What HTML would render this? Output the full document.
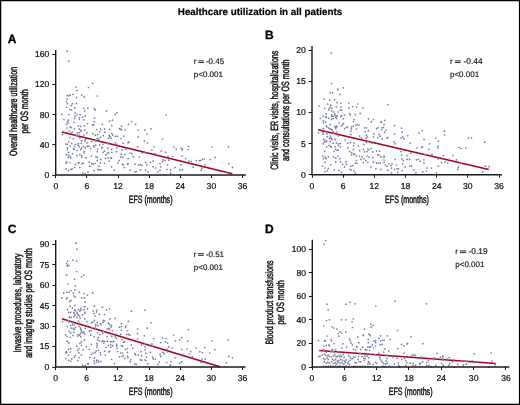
<!DOCTYPE html><html><head><meta charset="utf-8"><style>html,body{margin:0;padding:0;background:#fff}svg{display:block;will-change:transform}text{text-rendering:geometricPrecision;font-family:"Liberation Sans", sans-serif}</style></head><body>
<svg width="520" height="405" viewBox="0 0 520 405">
<rect x="0" y="0" width="520" height="405" fill="#000"/>
<rect x="1.25" y="1.25" width="517.65" height="402.45" fill="#fff"/>
<text x="260" y="15.4" font-size="9.83" font-weight="bold" text-anchor="middle" fill="#000" stroke="#000" stroke-width="0.2">Healthcare utilization in all patients</text>
<g fill="#747aa6"><circle cx="67.2" cy="51.2" r="0.85"/><circle cx="68.8" cy="61.2" r="0.85"/><circle cx="92.6" cy="83.4" r="0.85"/><circle cx="88.5" cy="87.5" r="0.85"/><circle cx="76.0" cy="87.1" r="0.85"/><circle cx="77.0" cy="90.6" r="0.85"/><circle cx="67.4" cy="95.6" r="0.85"/><circle cx="69.0" cy="95.7" r="0.85"/><circle cx="70.2" cy="95.1" r="0.85"/><circle cx="72.8" cy="94.3" r="0.85"/><circle cx="81.6" cy="95.1" r="0.85"/><circle cx="84.3" cy="96.9" r="0.85"/><circle cx="76.5" cy="97.4" r="0.85"/><circle cx="67.1" cy="99.1" r="0.85"/><circle cx="66.5" cy="101.5" r="0.85"/><circle cx="67.4" cy="103.7" r="0.85"/><circle cx="72.4" cy="103.7" r="0.85"/><circle cx="76.5" cy="103.4" r="0.85"/><circle cx="71.1" cy="105.4" r="0.85"/><circle cx="66.5" cy="107.2" r="0.85"/><circle cx="74.8" cy="107.9" r="0.85"/><circle cx="83.8" cy="108.3" r="0.85"/><circle cx="87.8" cy="107.9" r="0.85"/><circle cx="84.7" cy="111.1" r="0.85"/><circle cx="69.9" cy="109.6" r="0.85"/><circle cx="71.4" cy="109.8" r="0.85"/><circle cx="75.1" cy="112.8" r="0.85"/><circle cx="61.9" cy="114.4" r="0.85"/><circle cx="69.0" cy="114.6" r="0.85"/><circle cx="77.0" cy="114.6" r="0.85"/><circle cx="80.1" cy="114.6" r="0.85"/><circle cx="97.3" cy="96.0" r="0.85"/><circle cx="94.2" cy="108.8" r="0.85"/><circle cx="95.3" cy="109.9" r="0.85"/><circle cx="106.5" cy="110.9" r="0.85"/><circle cx="117.0" cy="112.8" r="0.85"/><circle cx="115.2" cy="114.6" r="0.85"/><circle cx="166.2" cy="115.0" r="0.85"/><circle cx="131.5" cy="121.6" r="0.85"/><circle cx="128.4" cy="124.4" r="0.85"/><circle cx="135.6" cy="124.4" r="0.85"/><circle cx="121.5" cy="126.2" r="0.85"/><circle cx="120.6" cy="129.0" r="0.85"/><circle cx="121.5" cy="129.8" r="0.85"/><circle cx="125.0" cy="130.0" r="0.85"/><circle cx="138.1" cy="130.0" r="0.85"/><circle cx="145.0" cy="130.2" r="0.85"/><circle cx="151.0" cy="128.8" r="0.85"/><circle cx="146.9" cy="134.0" r="0.85"/><circle cx="123.8" cy="136.2" r="0.85"/><circle cx="138.1" cy="136.9" r="0.85"/><circle cx="121.0" cy="138.5" r="0.85"/><circle cx="162.5" cy="139.0" r="0.85"/><circle cx="75.1" cy="116.2" r="0.85"/><circle cx="74.5" cy="118.4" r="0.85"/><circle cx="79.5" cy="117.5" r="0.85"/><circle cx="79.5" cy="119.3" r="0.85"/><circle cx="82.5" cy="117.2" r="0.85"/><circle cx="85.3" cy="115.9" r="0.85"/><circle cx="83.8" cy="119.8" r="0.85"/><circle cx="64.0" cy="119.6" r="0.85"/><circle cx="68.3" cy="120.2" r="0.85"/><circle cx="67.4" cy="122.1" r="0.85"/><circle cx="68.3" cy="123.0" r="0.85"/><circle cx="66.5" cy="124.4" r="0.85"/><circle cx="74.2" cy="122.3" r="0.85"/><circle cx="78.5" cy="125.8" r="0.85"/><circle cx="80.7" cy="126.4" r="0.85"/><circle cx="84.4" cy="125.8" r="0.85"/><circle cx="87.5" cy="123.6" r="0.85"/><circle cx="67.1" cy="128.0" r="0.85"/><circle cx="70.2" cy="127.0" r="0.85"/><circle cx="71.1" cy="127.7" r="0.85"/><circle cx="74.5" cy="128.6" r="0.85"/><circle cx="79.2" cy="129.2" r="0.85"/><circle cx="80.7" cy="130.1" r="0.85"/><circle cx="81.3" cy="131.2" r="0.85"/><circle cx="84.7" cy="130.1" r="0.85"/><circle cx="86.9" cy="132.9" r="0.85"/><circle cx="69.3" cy="131.1" r="0.85"/><circle cx="72.4" cy="132.0" r="0.85"/><circle cx="77.6" cy="132.9" r="0.85"/><circle cx="79.5" cy="132.6" r="0.85"/><circle cx="70.8" cy="133.2" r="0.85"/><circle cx="75.1" cy="134.8" r="0.85"/><circle cx="77.0" cy="135.4" r="0.85"/><circle cx="78.8" cy="135.4" r="0.85"/><circle cx="83.8" cy="135.1" r="0.85"/><circle cx="62.5" cy="134.6" r="0.85"/><circle cx="69.6" cy="137.5" r="0.85"/><circle cx="73.3" cy="138.8" r="0.85"/><circle cx="79.8" cy="137.8" r="0.85"/><circle cx="85.6" cy="139.4" r="0.85"/><circle cx="94.5" cy="118.1" r="0.85"/><circle cx="94.5" cy="121.8" r="0.85"/><circle cx="92.3" cy="124.9" r="0.85"/><circle cx="93.6" cy="124.9" r="0.85"/><circle cx="102.3" cy="124.3" r="0.85"/><circle cx="109.6" cy="121.2" r="0.85"/><circle cx="112.4" cy="120.2" r="0.85"/><circle cx="111.8" cy="125.6" r="0.85"/><circle cx="96.6" cy="129.5" r="0.85"/><circle cx="100.7" cy="129.1" r="0.85"/><circle cx="104.5" cy="128.9" r="0.85"/><circle cx="109.6" cy="129.3" r="0.85"/><circle cx="119.5" cy="128.7" r="0.85"/><circle cx="99.7" cy="131.8" r="0.85"/><circle cx="105.0" cy="132.3" r="0.85"/><circle cx="92.9" cy="133.8" r="0.85"/><circle cx="95.4" cy="135.2" r="0.85"/><circle cx="97.6" cy="134.4" r="0.85"/><circle cx="103.3" cy="135.7" r="0.85"/><circle cx="100.3" cy="137.1" r="0.85"/><circle cx="111.8" cy="133.5" r="0.85"/><circle cx="112.7" cy="135.1" r="0.85"/><circle cx="109.3" cy="135.4" r="0.85"/><circle cx="109.9" cy="136.3" r="0.85"/><circle cx="110.2" cy="137.2" r="0.85"/><circle cx="115.2" cy="136.3" r="0.85"/><circle cx="117.3" cy="136.3" r="0.85"/><circle cx="108.4" cy="138.3" r="0.85"/><circle cx="111.2" cy="138.5" r="0.85"/><circle cx="97.3" cy="138.3" r="0.85"/><circle cx="98.8" cy="139.1" r="0.85"/><circle cx="68.7" cy="141.8" r="0.85"/><circle cx="65.9" cy="144.0" r="0.85"/><circle cx="67.4" cy="144.3" r="0.85"/><circle cx="71.7" cy="143.4" r="0.85"/><circle cx="70.2" cy="145.9" r="0.85"/><circle cx="75.4" cy="144.3" r="0.85"/><circle cx="78.5" cy="143.7" r="0.85"/><circle cx="78.2" cy="145.2" r="0.85"/><circle cx="81.3" cy="143.4" r="0.85"/><circle cx="79.2" cy="146.8" r="0.85"/><circle cx="67.4" cy="147.7" r="0.85"/><circle cx="67.4" cy="149.6" r="0.85"/><circle cx="74.5" cy="146.5" r="0.85"/><circle cx="73.6" cy="148.6" r="0.85"/><circle cx="73.9" cy="149.6" r="0.85"/><circle cx="77.0" cy="150.5" r="0.85"/><circle cx="80.7" cy="149.6" r="0.85"/><circle cx="81.6" cy="148.0" r="0.85"/><circle cx="83.5" cy="146.5" r="0.85"/><circle cx="85.3" cy="147.7" r="0.85"/><circle cx="87.2" cy="146.2" r="0.85"/><circle cx="87.2" cy="142.8" r="0.85"/><circle cx="85.0" cy="140.9" r="0.85"/><circle cx="81.6" cy="140.9" r="0.85"/><circle cx="68.7" cy="152.3" r="0.85"/><circle cx="72.4" cy="153.9" r="0.85"/><circle cx="66.5" cy="154.7" r="0.85"/><circle cx="68.7" cy="155.4" r="0.85"/><circle cx="70.2" cy="156.4" r="0.85"/><circle cx="68.3" cy="157.6" r="0.85"/><circle cx="70.8" cy="157.9" r="0.85"/><circle cx="77.0" cy="155.7" r="0.85"/><circle cx="79.8" cy="154.5" r="0.85"/><circle cx="81.6" cy="155.7" r="0.85"/><circle cx="81.6" cy="157.3" r="0.85"/><circle cx="84.1" cy="151.7" r="0.85"/><circle cx="84.4" cy="153.0" r="0.85"/><circle cx="86.2" cy="157.9" r="0.85"/><circle cx="66.8" cy="161.9" r="0.85"/><circle cx="65.9" cy="163.2" r="0.85"/><circle cx="70.2" cy="162.5" r="0.85"/><circle cx="78.2" cy="163.2" r="0.85"/><circle cx="79.2" cy="162.5" r="0.85"/><circle cx="75.4" cy="164.4" r="0.85"/><circle cx="81.9" cy="163.8" r="0.85"/><circle cx="83.2" cy="163.2" r="0.85"/><circle cx="91.4" cy="141.5" r="0.85"/><circle cx="95.7" cy="140.9" r="0.85"/><circle cx="100.7" cy="142.2" r="0.85"/><circle cx="107.8" cy="143.4" r="0.85"/><circle cx="115.2" cy="142.8" r="0.85"/><circle cx="116.7" cy="144.3" r="0.85"/><circle cx="88.9" cy="146.2" r="0.85"/><circle cx="93.6" cy="145.9" r="0.85"/><circle cx="95.7" cy="145.2" r="0.85"/><circle cx="94.2" cy="147.1" r="0.85"/><circle cx="99.7" cy="144.9" r="0.85"/><circle cx="103.1" cy="144.3" r="0.85"/><circle cx="90.8" cy="148.3" r="0.85"/><circle cx="101.9" cy="147.1" r="0.85"/><circle cx="101.9" cy="148.3" r="0.85"/><circle cx="97.6" cy="149.3" r="0.85"/><circle cx="97.3" cy="151.7" r="0.85"/><circle cx="107.8" cy="148.3" r="0.85"/><circle cx="111.8" cy="149.3" r="0.85"/><circle cx="116.7" cy="148.0" r="0.85"/><circle cx="103.1" cy="152.3" r="0.85"/><circle cx="104.4" cy="151.1" r="0.85"/><circle cx="107.4" cy="153.0" r="0.85"/><circle cx="108.7" cy="153.0" r="0.85"/><circle cx="105.9" cy="154.8" r="0.85"/><circle cx="111.8" cy="152.3" r="0.85"/><circle cx="116.4" cy="151.7" r="0.85"/><circle cx="91.4" cy="156.1" r="0.85"/><circle cx="96.0" cy="156.7" r="0.85"/><circle cx="97.3" cy="157.3" r="0.85"/><circle cx="100.7" cy="159.4" r="0.85"/><circle cx="105.6" cy="158.4" r="0.85"/><circle cx="108.4" cy="157.9" r="0.85"/><circle cx="111.2" cy="157.6" r="0.85"/><circle cx="111.5" cy="158.5" r="0.85"/><circle cx="97.3" cy="160.7" r="0.85"/><circle cx="109.3" cy="161.0" r="0.85"/><circle cx="119.2" cy="160.4" r="0.85"/><circle cx="89.2" cy="162.2" r="0.85"/><circle cx="91.7" cy="163.5" r="0.85"/><circle cx="93.2" cy="163.8" r="0.85"/><circle cx="95.1" cy="163.5" r="0.85"/><circle cx="100.3" cy="162.8" r="0.85"/><circle cx="104.4" cy="163.3" r="0.85"/><circle cx="117.9" cy="162.8" r="0.85"/><circle cx="66.0" cy="168.8" r="0.85"/><circle cx="68.5" cy="170.6" r="0.85"/><circle cx="71.0" cy="169.4" r="0.85"/><circle cx="72.2" cy="168.8" r="0.85"/><circle cx="74.8" cy="167.5" r="0.85"/><circle cx="79.8" cy="167.5" r="0.85"/><circle cx="89.8" cy="166.2" r="0.85"/><circle cx="99.1" cy="166.2" r="0.85"/><circle cx="94.1" cy="170.6" r="0.85"/><circle cx="97.9" cy="169.4" r="0.85"/><circle cx="99.1" cy="169.8" r="0.85"/><circle cx="101.0" cy="169.8" r="0.85"/><circle cx="111.6" cy="166.9" r="0.85"/><circle cx="114.1" cy="170.0" r="0.85"/><circle cx="82.9" cy="173.1" r="0.85"/><circle cx="85.4" cy="173.8" r="0.85"/><circle cx="87.9" cy="171.9" r="0.85"/><circle cx="123.1" cy="143.2" r="0.85"/><circle cx="128.8" cy="141.8" r="0.85"/><circle cx="128.1" cy="142.8" r="0.85"/><circle cx="144.4" cy="141.1" r="0.85"/><circle cx="147.5" cy="143.0" r="0.85"/><circle cx="137.5" cy="146.8" r="0.85"/><circle cx="153.8" cy="147.0" r="0.85"/><circle cx="151.9" cy="149.9" r="0.85"/><circle cx="161.2" cy="151.1" r="0.85"/><circle cx="165.6" cy="152.4" r="0.85"/><circle cx="173.8" cy="147.0" r="0.85"/><circle cx="176.2" cy="149.2" r="0.85"/><circle cx="181.2" cy="148.0" r="0.85"/><circle cx="181.9" cy="149.9" r="0.85"/><circle cx="182.5" cy="149.0" r="0.85"/><circle cx="121.9" cy="149.9" r="0.85"/><circle cx="125.6" cy="149.2" r="0.85"/><circle cx="121.2" cy="154.2" r="0.85"/><circle cx="125.0" cy="154.5" r="0.85"/><circle cx="130.0" cy="153.0" r="0.85"/><circle cx="131.9" cy="153.6" r="0.85"/><circle cx="141.9" cy="153.0" r="0.85"/><circle cx="145.6" cy="152.8" r="0.85"/><circle cx="155.0" cy="153.6" r="0.85"/><circle cx="120.6" cy="156.8" r="0.85"/><circle cx="122.5" cy="157.4" r="0.85"/><circle cx="128.1" cy="158.6" r="0.85"/><circle cx="133.1" cy="156.8" r="0.85"/><circle cx="139.4" cy="157.0" r="0.85"/><circle cx="168.1" cy="156.5" r="0.85"/><circle cx="172.5" cy="156.5" r="0.85"/><circle cx="181.9" cy="156.1" r="0.85"/><circle cx="163.1" cy="159.9" r="0.85"/><circle cx="165.0" cy="160.5" r="0.85"/><circle cx="168.8" cy="160.2" r="0.85"/><circle cx="162.5" cy="161.8" r="0.85"/><circle cx="122.5" cy="164.2" r="0.85"/><circle cx="123.1" cy="164.9" r="0.85"/><circle cx="127.5" cy="164.2" r="0.85"/><circle cx="128.1" cy="163.6" r="0.85"/><circle cx="124.4" cy="167.4" r="0.85"/><circle cx="135.0" cy="164.2" r="0.85"/><circle cx="138.8" cy="164.9" r="0.85"/><circle cx="140.6" cy="164.6" r="0.85"/><circle cx="141.9" cy="165.5" r="0.85"/><circle cx="145.6" cy="162.4" r="0.85"/><circle cx="146.9" cy="164.9" r="0.85"/><circle cx="150.6" cy="162.4" r="0.85"/><circle cx="153.1" cy="161.1" r="0.85"/><circle cx="153.1" cy="166.8" r="0.85"/><circle cx="155.6" cy="168.0" r="0.85"/><circle cx="160.0" cy="163.6" r="0.85"/><circle cx="160.6" cy="166.8" r="0.85"/><circle cx="167.5" cy="164.9" r="0.85"/><circle cx="175.0" cy="167.4" r="0.85"/><circle cx="181.2" cy="164.9" r="0.85"/><circle cx="130.0" cy="170.2" r="0.85"/><circle cx="135.0" cy="171.8" r="0.85"/><circle cx="136.2" cy="171.5" r="0.85"/><circle cx="140.6" cy="169.9" r="0.85"/><circle cx="145.6" cy="170.2" r="0.85"/><circle cx="148.1" cy="171.8" r="0.85"/><circle cx="158.1" cy="172.0" r="0.85"/><circle cx="160.0" cy="170.2" r="0.85"/><circle cx="166.9" cy="169.5" r="0.85"/><circle cx="170.6" cy="170.2" r="0.85"/><circle cx="170.6" cy="173.2" r="0.85"/><circle cx="180.0" cy="169.9" r="0.85"/><circle cx="182.5" cy="169.9" r="0.85"/><circle cx="188.5" cy="146.5" r="0.85"/><circle cx="188.1" cy="149.5" r="0.85"/><circle cx="211.9" cy="147.0" r="0.85"/><circle cx="228.5" cy="146.8" r="0.85"/><circle cx="185.6" cy="158.6" r="0.85"/><circle cx="188.8" cy="161.1" r="0.85"/><circle cx="191.2" cy="161.5" r="0.85"/><circle cx="196.2" cy="160.5" r="0.85"/><circle cx="199.4" cy="160.5" r="0.85"/><circle cx="200.6" cy="160.5" r="0.85"/><circle cx="202.5" cy="159.5" r="0.85"/><circle cx="204.4" cy="159.0" r="0.85"/><circle cx="210.0" cy="159.5" r="0.85"/><circle cx="215.0" cy="157.4" r="0.85"/><circle cx="193.1" cy="167.1" r="0.85"/><circle cx="201.9" cy="168.2" r="0.85"/><circle cx="201.2" cy="170.2" r="0.85"/><circle cx="205.0" cy="164.9" r="0.85"/><circle cx="228.8" cy="163.6" r="0.85"/><circle cx="232.5" cy="167.4" r="0.85"/><circle cx="226.2" cy="171.8" r="0.85"/></g>
<line x1="61.9" y1="132.1" x2="232.3" y2="173.8" stroke="#a8001f" stroke-width="1.55"/>
<g fill="#8da6cf"><circle cx="70.8" cy="133.2" r="0.8"/><circle cx="75.1" cy="134.8" r="0.8"/><circle cx="77.0" cy="135.4" r="0.8"/><circle cx="78.8" cy="135.4" r="0.8"/><circle cx="95.7" cy="140.9" r="0.8"/><circle cx="100.7" cy="142.2" r="0.8"/><circle cx="107.8" cy="143.4" r="0.8"/><circle cx="116.7" cy="144.3" r="0.8"/><circle cx="141.9" cy="153.0" r="0.8"/><circle cx="145.6" cy="152.8" r="0.8"/><circle cx="155.0" cy="153.6" r="0.8"/><circle cx="226.2" cy="171.8" r="0.8"/></g>
<g stroke="#1a1a1a" fill="none"><line x1="55.7" y1="50" x2="55.7" y2="175" stroke-width="1.4"/><line x1="55.0" y1="175" x2="245.7" y2="175" stroke-width="1.6"/><line x1="52.300000000000004" y1="175.50" x2="55.7" y2="175.50" stroke-width="1"/><line x1="52.300000000000004" y1="144.50" x2="55.7" y2="144.50" stroke-width="1"/><line x1="52.300000000000004" y1="114.50" x2="55.7" y2="114.50" stroke-width="1"/><line x1="52.300000000000004" y1="84.50" x2="55.7" y2="84.50" stroke-width="1"/><line x1="52.300000000000004" y1="54.50" x2="55.7" y2="54.50" stroke-width="1"/><line x1="55.50" y1="175" x2="55.50" y2="178.0" stroke-width="1"/><line x1="86.50" y1="175" x2="86.50" y2="178.0" stroke-width="1"/><line x1="118.50" y1="175" x2="118.50" y2="178.0" stroke-width="1"/><line x1="149.50" y1="175" x2="149.50" y2="178.0" stroke-width="1"/><line x1="180.50" y1="175" x2="180.50" y2="178.0" stroke-width="1"/><line x1="211.50" y1="175" x2="211.50" y2="178.0" stroke-width="1"/><line x1="242.50" y1="175" x2="242.50" y2="178.0" stroke-width="1"/></g>
<g font-size="8.6" fill="#111" stroke="#111" stroke-width="0.22"><text x="49.40" y="177.95" text-anchor="end">0</text><text x="49.40" y="147.77" text-anchor="end">40</text><text x="49.40" y="117.59" text-anchor="end">80</text><text x="49.40" y="87.41" text-anchor="end">120</text><text x="49.40" y="57.23" text-anchor="end">160</text><text x="55.80" y="189.0" text-anchor="middle">0</text><text x="86.92" y="189.0" text-anchor="middle">6</text><text x="118.04" y="189.0" text-anchor="middle">12</text><text x="149.16" y="189.0" text-anchor="middle">18</text><text x="180.28" y="189.0" text-anchor="middle">24</text><text x="211.40" y="189.0" text-anchor="middle">30</text><text x="242.52" y="189.0" text-anchor="middle">36</text></g>
<text transform="translate(150.6,203.2) scale(0.67,1)" font-size="10.6" text-anchor="middle" fill="#111" stroke="#111" stroke-width="0.45">EFS (months)</text>
<text transform="translate(16.85,111.5) rotate(-90) scale(0.67,1)" font-size="10.6" text-anchor="middle" fill="#111" stroke="#111" stroke-width="0.45">Overall healthcare utilization</text>
<text transform="translate(28.0,111.5) rotate(-90) scale(0.67,1)" font-size="10.6" text-anchor="middle" fill="#111" stroke="#111" stroke-width="0.45">per OS month</text>
<text x="7.8" y="42.6" font-size="12" font-weight="bold" fill="#000" stroke="#000" stroke-width="0.3">A</text>
<text x="193.8" y="64.0" font-size="8" fill="#111" stroke="#111" stroke-width="0.15">r</text>
<rect x="198.4" y="60.35" width="5.5" height="0.95" fill="#222"/><rect x="198.4" y="62.05" width="5.5" height="0.95" fill="#222"/>
<text x="205.9" y="64.0" font-size="8.0" fill="#111" stroke="#111" stroke-width="0.15">-0.45</text>
<text x="193.8" y="76.9" font-size="8" fill="#111" stroke="#111" stroke-width="0.15">p&lt;0.001</text>
<g fill="#747aa6"><circle cx="331.4" cy="53.1" r="0.85"/><circle cx="331.4" cy="83.5" r="0.85"/><circle cx="337.6" cy="89.0" r="0.85"/><circle cx="338.2" cy="89.8" r="0.85"/><circle cx="343.2" cy="87.8" r="0.85"/><circle cx="330.1" cy="92.8" r="0.85"/><circle cx="332.6" cy="92.8" r="0.85"/><circle cx="340.1" cy="94.4" r="0.85"/><circle cx="324.0" cy="99.0" r="0.85"/><circle cx="329.9" cy="100.2" r="0.85"/><circle cx="334.5" cy="99.6" r="0.85"/><circle cx="337.0" cy="102.7" r="0.85"/><circle cx="341.0" cy="103.3" r="0.85"/><circle cx="327.7" cy="104.0" r="0.85"/><circle cx="319.1" cy="106.0" r="0.85"/><circle cx="330.8" cy="105.2" r="0.85"/><circle cx="330.5" cy="107.0" r="0.85"/><circle cx="324.6" cy="108.3" r="0.85"/><circle cx="329.3" cy="108.3" r="0.85"/><circle cx="331.8" cy="108.3" r="0.85"/><circle cx="336.4" cy="107.0" r="0.85"/><circle cx="341.0" cy="107.0" r="0.85"/><circle cx="328.7" cy="110.1" r="0.85"/><circle cx="331.8" cy="110.9" r="0.85"/><circle cx="333.9" cy="112.0" r="0.85"/><circle cx="337.9" cy="112.0" r="0.85"/><circle cx="340.1" cy="110.1" r="0.85"/><circle cx="341.6" cy="110.1" r="0.85"/><circle cx="326.2" cy="113.8" r="0.85"/><circle cx="323.1" cy="116.3" r="0.85"/><circle cx="320.3" cy="118.3" r="0.85"/><circle cx="325.9" cy="116.9" r="0.85"/><circle cx="326.2" cy="117.7" r="0.85"/><circle cx="328.7" cy="118.3" r="0.85"/><circle cx="331.8" cy="115.1" r="0.85"/><circle cx="331.8" cy="116.3" r="0.85"/><circle cx="333.0" cy="116.3" r="0.85"/><circle cx="334.8" cy="114.1" r="0.85"/><circle cx="335.1" cy="115.4" r="0.85"/><circle cx="336.4" cy="116.3" r="0.85"/><circle cx="337.3" cy="115.7" r="0.85"/><circle cx="335.8" cy="117.5" r="0.85"/><circle cx="336.7" cy="118.5" r="0.85"/><circle cx="333.0" cy="118.5" r="0.85"/><circle cx="331.4" cy="119.4" r="0.85"/><circle cx="340.7" cy="116.6" r="0.85"/><circle cx="341.6" cy="115.7" r="0.85"/><circle cx="343.2" cy="118.8" r="0.85"/><circle cx="348.8" cy="103.1" r="0.85"/><circle cx="357.8" cy="104.0" r="0.85"/><circle cx="352.8" cy="106.5" r="0.85"/><circle cx="356.5" cy="107.1" r="0.85"/><circle cx="349.0" cy="108.1" r="0.85"/><circle cx="362.8" cy="107.8" r="0.85"/><circle cx="387.8" cy="104.6" r="0.85"/><circle cx="344.6" cy="115.0" r="0.85"/><circle cx="349.6" cy="113.5" r="0.85"/><circle cx="350.2" cy="114.8" r="0.85"/><circle cx="355.2" cy="114.6" r="0.85"/><circle cx="360.2" cy="113.4" r="0.85"/><circle cx="368.4" cy="118.8" r="0.85"/><circle cx="373.4" cy="119.6" r="0.85"/><circle cx="371.5" cy="121.9" r="0.85"/><circle cx="354.0" cy="119.6" r="0.85"/><circle cx="353.4" cy="121.5" r="0.85"/><circle cx="380.9" cy="121.5" r="0.85"/><circle cx="381.5" cy="122.5" r="0.85"/><circle cx="384.6" cy="120.4" r="0.85"/><circle cx="384.0" cy="124.6" r="0.85"/><circle cx="347.8" cy="126.9" r="0.85"/><circle cx="345.9" cy="127.5" r="0.85"/><circle cx="351.5" cy="126.9" r="0.85"/><circle cx="353.4" cy="126.2" r="0.85"/><circle cx="355.9" cy="125.0" r="0.85"/><circle cx="357.1" cy="124.6" r="0.85"/><circle cx="359.0" cy="125.0" r="0.85"/><circle cx="356.5" cy="129.0" r="0.85"/><circle cx="351.5" cy="128.8" r="0.85"/><circle cx="350.9" cy="131.2" r="0.85"/><circle cx="344.6" cy="128.8" r="0.85"/><circle cx="364.6" cy="127.8" r="0.85"/><circle cx="366.5" cy="127.8" r="0.85"/><circle cx="365.2" cy="131.5" r="0.85"/><circle cx="368.4" cy="130.9" r="0.85"/><circle cx="376.5" cy="128.8" r="0.85"/><circle cx="377.8" cy="127.8" r="0.85"/><circle cx="382.1" cy="127.8" r="0.85"/><circle cx="383.4" cy="127.5" r="0.85"/><circle cx="381.5" cy="130.0" r="0.85"/><circle cx="385.9" cy="130.0" r="0.85"/><circle cx="384.6" cy="132.2" r="0.85"/><circle cx="394.6" cy="125.6" r="0.85"/><circle cx="401.5" cy="128.1" r="0.85"/><circle cx="402.1" cy="132.2" r="0.85"/><circle cx="394.6" cy="133.8" r="0.85"/><circle cx="374.0" cy="133.8" r="0.85"/><circle cx="379.0" cy="134.4" r="0.85"/><circle cx="373.4" cy="136.9" r="0.85"/><circle cx="377.8" cy="137.5" r="0.85"/><circle cx="380.2" cy="136.2" r="0.85"/><circle cx="382.1" cy="138.8" r="0.85"/><circle cx="387.1" cy="138.1" r="0.85"/><circle cx="387.8" cy="137.5" r="0.85"/><circle cx="366.5" cy="135.2" r="0.85"/><circle cx="367.1" cy="136.9" r="0.85"/><circle cx="365.9" cy="138.1" r="0.85"/><circle cx="359.6" cy="136.2" r="0.85"/><circle cx="361.5" cy="138.1" r="0.85"/><circle cx="350.9" cy="134.4" r="0.85"/><circle cx="345.2" cy="140.0" r="0.85"/><circle cx="400.9" cy="138.1" r="0.85"/><circle cx="402.8" cy="136.9" r="0.85"/><circle cx="404.0" cy="138.8" r="0.85"/><circle cx="407.8" cy="135.6" r="0.85"/><circle cx="347.8" cy="143.1" r="0.85"/><circle cx="350.2" cy="142.5" r="0.85"/><circle cx="354.0" cy="143.1" r="0.85"/><circle cx="364.0" cy="144.4" r="0.85"/><circle cx="366.5" cy="142.5" r="0.85"/><circle cx="367.8" cy="141.5" r="0.85"/><circle cx="372.1" cy="143.1" r="0.85"/><circle cx="394.0" cy="141.9" r="0.85"/><circle cx="395.2" cy="143.8" r="0.85"/><circle cx="323.4" cy="120.9" r="0.85"/><circle cx="323.4" cy="123.1" r="0.85"/><circle cx="325.6" cy="122.2" r="0.85"/><circle cx="330.2" cy="124.4" r="0.85"/><circle cx="339.2" cy="123.1" r="0.85"/><circle cx="341.3" cy="125.9" r="0.85"/><circle cx="342.6" cy="124.6" r="0.85"/><circle cx="343.5" cy="123.4" r="0.85"/><circle cx="326.5" cy="125.9" r="0.85"/><circle cx="326.8" cy="127.1" r="0.85"/><circle cx="328.7" cy="128.0" r="0.85"/><circle cx="329.9" cy="128.6" r="0.85"/><circle cx="331.1" cy="129.3" r="0.85"/><circle cx="332.1" cy="129.9" r="0.85"/><circle cx="334.8" cy="126.5" r="0.85"/><circle cx="335.5" cy="127.4" r="0.85"/><circle cx="336.4" cy="127.1" r="0.85"/><circle cx="335.8" cy="128.6" r="0.85"/><circle cx="337.0" cy="126.2" r="0.85"/><circle cx="323.4" cy="128.6" r="0.85"/><circle cx="318.5" cy="132.7" r="0.85"/><circle cx="322.8" cy="132.3" r="0.85"/><circle cx="323.1" cy="134.2" r="0.85"/><circle cx="326.2" cy="131.7" r="0.85"/><circle cx="326.8" cy="133.9" r="0.85"/><circle cx="333.3" cy="131.7" r="0.85"/><circle cx="333.6" cy="133.3" r="0.85"/><circle cx="336.4" cy="132.0" r="0.85"/><circle cx="337.3" cy="133.6" r="0.85"/><circle cx="338.5" cy="135.7" r="0.85"/><circle cx="327.4" cy="136.7" r="0.85"/><circle cx="330.5" cy="136.1" r="0.85"/><circle cx="330.2" cy="137.9" r="0.85"/><circle cx="329.6" cy="138.5" r="0.85"/><circle cx="331.8" cy="138.5" r="0.85"/><circle cx="331.8" cy="139.8" r="0.85"/><circle cx="335.1" cy="139.4" r="0.85"/><circle cx="323.7" cy="139.4" r="0.85"/><circle cx="325.0" cy="140.4" r="0.85"/><circle cx="326.8" cy="141.0" r="0.85"/><circle cx="326.2" cy="141.9" r="0.85"/><circle cx="324.4" cy="142.2" r="0.85"/><circle cx="323.1" cy="143.8" r="0.85"/><circle cx="330.2" cy="141.3" r="0.85"/><circle cx="333.3" cy="143.3" r="0.85"/><circle cx="336.4" cy="143.2" r="0.85"/><circle cx="338.9" cy="143.8" r="0.85"/><circle cx="340.4" cy="143.5" r="0.85"/><circle cx="326.8" cy="146.8" r="0.85"/><circle cx="329.0" cy="145.4" r="0.85"/><circle cx="330.5" cy="146.3" r="0.85"/><circle cx="331.4" cy="147.1" r="0.85"/><circle cx="335.0" cy="146.8" r="0.85"/><circle cx="338.3" cy="145.4" r="0.85"/><circle cx="340.5" cy="146.8" r="0.85"/><circle cx="324.6" cy="151.3" r="0.85"/><circle cx="333.9" cy="151.3" r="0.85"/><circle cx="335.7" cy="149.4" r="0.85"/><circle cx="337.2" cy="150.3" r="0.85"/><circle cx="338.3" cy="150.2" r="0.85"/><circle cx="322.7" cy="156.1" r="0.85"/><circle cx="325.3" cy="157.2" r="0.85"/><circle cx="323.5" cy="158.7" r="0.85"/><circle cx="326.1" cy="158.7" r="0.85"/><circle cx="328.3" cy="156.8" r="0.85"/><circle cx="333.5" cy="156.8" r="0.85"/><circle cx="335.7" cy="158.2" r="0.85"/><circle cx="337.9" cy="156.1" r="0.85"/><circle cx="339.8" cy="158.7" r="0.85"/><circle cx="325.0" cy="162.4" r="0.85"/><circle cx="330.9" cy="164.8" r="0.85"/><circle cx="335.7" cy="161.9" r="0.85"/><circle cx="340.5" cy="161.9" r="0.85"/><circle cx="342.7" cy="164.3" r="0.85"/><circle cx="322.4" cy="166.1" r="0.85"/><circle cx="325.0" cy="168.0" r="0.85"/><circle cx="328.3" cy="168.6" r="0.85"/><circle cx="327.2" cy="170.6" r="0.85"/><circle cx="325.0" cy="171.7" r="0.85"/><circle cx="334.2" cy="169.8" r="0.85"/><circle cx="339.0" cy="170.6" r="0.85"/><circle cx="341.6" cy="172.3" r="0.85"/><circle cx="353.4" cy="145.6" r="0.85"/><circle cx="358.4" cy="146.0" r="0.85"/><circle cx="347.8" cy="147.8" r="0.85"/><circle cx="353.4" cy="149.4" r="0.85"/><circle cx="359.6" cy="150.6" r="0.85"/><circle cx="363.4" cy="149.4" r="0.85"/><circle cx="367.8" cy="149.0" r="0.85"/><circle cx="369.0" cy="149.8" r="0.85"/><circle cx="370.9" cy="148.5" r="0.85"/><circle cx="364.6" cy="151.9" r="0.85"/><circle cx="367.1" cy="151.5" r="0.85"/><circle cx="372.8" cy="151.9" r="0.85"/><circle cx="376.5" cy="151.2" r="0.85"/><circle cx="379.6" cy="151.2" r="0.85"/><circle cx="349.6" cy="151.5" r="0.85"/><circle cx="351.5" cy="152.5" r="0.85"/><circle cx="353.4" cy="153.8" r="0.85"/><circle cx="354.6" cy="154.4" r="0.85"/><circle cx="356.5" cy="156.0" r="0.85"/><circle cx="351.5" cy="154.8" r="0.85"/><circle cx="359.6" cy="156.0" r="0.85"/><circle cx="362.1" cy="156.9" r="0.85"/><circle cx="367.1" cy="156.0" r="0.85"/><circle cx="369.0" cy="157.2" r="0.85"/><circle cx="372.8" cy="157.5" r="0.85"/><circle cx="377.8" cy="154.8" r="0.85"/><circle cx="379.0" cy="155.0" r="0.85"/><circle cx="380.9" cy="156.9" r="0.85"/><circle cx="384.0" cy="156.0" r="0.85"/><circle cx="384.0" cy="157.2" r="0.85"/><circle cx="400.9" cy="151.5" r="0.85"/><circle cx="401.5" cy="155.0" r="0.85"/><circle cx="407.1" cy="155.6" r="0.85"/><circle cx="402.1" cy="158.8" r="0.85"/><circle cx="403.4" cy="160.6" r="0.85"/><circle cx="407.1" cy="159.4" r="0.85"/><circle cx="395.2" cy="159.4" r="0.85"/><circle cx="345.9" cy="161.9" r="0.85"/><circle cx="346.5" cy="164.4" r="0.85"/><circle cx="356.5" cy="160.6" r="0.85"/><circle cx="357.1" cy="163.1" r="0.85"/><circle cx="355.2" cy="163.1" r="0.85"/><circle cx="360.9" cy="159.4" r="0.85"/><circle cx="364.0" cy="158.8" r="0.85"/><circle cx="365.9" cy="160.6" r="0.85"/><circle cx="363.4" cy="162.5" r="0.85"/><circle cx="367.8" cy="162.5" r="0.85"/><circle cx="373.4" cy="162.2" r="0.85"/><circle cx="376.5" cy="163.1" r="0.85"/><circle cx="378.4" cy="163.1" r="0.85"/><circle cx="380.2" cy="163.1" r="0.85"/><circle cx="384.0" cy="160.0" r="0.85"/><circle cx="384.0" cy="162.5" r="0.85"/><circle cx="385.2" cy="165.0" r="0.85"/><circle cx="387.1" cy="166.2" r="0.85"/><circle cx="389.0" cy="163.8" r="0.85"/><circle cx="390.9" cy="165.6" r="0.85"/><circle cx="392.1" cy="163.8" r="0.85"/><circle cx="396.5" cy="165.0" r="0.85"/><circle cx="402.8" cy="163.8" r="0.85"/><circle cx="405.2" cy="166.9" r="0.85"/><circle cx="344.6" cy="166.9" r="0.85"/><circle cx="350.9" cy="166.2" r="0.85"/><circle cx="352.8" cy="165.6" r="0.85"/><circle cx="370.9" cy="166.9" r="0.85"/><circle cx="375.9" cy="168.8" r="0.85"/><circle cx="380.9" cy="169.4" r="0.85"/><circle cx="387.8" cy="170.2" r="0.85"/><circle cx="391.5" cy="168.1" r="0.85"/><circle cx="394.6" cy="169.4" r="0.85"/><circle cx="397.1" cy="168.8" r="0.85"/><circle cx="398.4" cy="168.8" r="0.85"/><circle cx="402.1" cy="170.6" r="0.85"/><circle cx="350.2" cy="169.4" r="0.85"/><circle cx="351.5" cy="170.0" r="0.85"/><circle cx="354.0" cy="171.0" r="0.85"/><circle cx="355.2" cy="172.8" r="0.85"/><circle cx="391.5" cy="172.8" r="0.85"/><circle cx="397.8" cy="172.2" r="0.85"/><circle cx="422.1" cy="130.6" r="0.85"/><circle cx="419.0" cy="133.1" r="0.85"/><circle cx="424.0" cy="139.4" r="0.85"/><circle cx="435.9" cy="138.1" r="0.85"/><circle cx="438.4" cy="141.2" r="0.85"/><circle cx="429.6" cy="143.8" r="0.85"/><circle cx="444.6" cy="131.2" r="0.85"/><circle cx="444.6" cy="135.0" r="0.85"/><circle cx="468.4" cy="138.1" r="0.85"/><circle cx="471.5" cy="138.1" r="0.85"/><circle cx="410.0" cy="143.1" r="0.85"/><circle cx="417.1" cy="148.1" r="0.85"/><circle cx="421.5" cy="147.5" r="0.85"/><circle cx="422.5" cy="146.9" r="0.85"/><circle cx="429.0" cy="149.4" r="0.85"/><circle cx="438.0" cy="146.2" r="0.85"/><circle cx="438.0" cy="148.1" r="0.85"/><circle cx="459.0" cy="147.5" r="0.85"/><circle cx="460.9" cy="148.5" r="0.85"/><circle cx="465.9" cy="148.1" r="0.85"/><circle cx="410.9" cy="153.1" r="0.85"/><circle cx="425.2" cy="154.4" r="0.85"/><circle cx="432.1" cy="154.4" r="0.85"/><circle cx="443.4" cy="155.6" r="0.85"/><circle cx="452.8" cy="155.6" r="0.85"/><circle cx="437.8" cy="158.8" r="0.85"/><circle cx="449.0" cy="159.4" r="0.85"/><circle cx="456.5" cy="159.8" r="0.85"/><circle cx="461.5" cy="162.9" r="0.85"/><circle cx="409.6" cy="159.4" r="0.85"/><circle cx="416.5" cy="159.8" r="0.85"/><circle cx="418.4" cy="159.4" r="0.85"/><circle cx="420.2" cy="161.2" r="0.85"/><circle cx="424.0" cy="159.8" r="0.85"/><circle cx="424.0" cy="163.1" r="0.85"/><circle cx="441.5" cy="162.5" r="0.85"/><circle cx="445.2" cy="161.9" r="0.85"/><circle cx="447.8" cy="163.1" r="0.85"/><circle cx="409.6" cy="166.0" r="0.85"/><circle cx="411.5" cy="166.2" r="0.85"/><circle cx="414.0" cy="170.0" r="0.85"/><circle cx="415.9" cy="172.8" r="0.85"/><circle cx="422.8" cy="171.9" r="0.85"/><circle cx="426.5" cy="171.0" r="0.85"/><circle cx="427.1" cy="168.1" r="0.85"/><circle cx="431.5" cy="168.1" r="0.85"/><circle cx="438.4" cy="166.0" r="0.85"/><circle cx="436.5" cy="172.8" r="0.85"/><circle cx="458.4" cy="167.2" r="0.85"/><circle cx="457.8" cy="169.4" r="0.85"/><circle cx="484.7" cy="142.2" r="0.85"/><circle cx="485.5" cy="166.2" r="0.85"/><circle cx="489.2" cy="166.7" r="0.85"/><circle cx="482.7" cy="172.2" r="0.85"/></g>
<line x1="318.1" y1="129.7" x2="488.8" y2="169.6" stroke="#a8001f" stroke-width="1.55"/>
<g fill="#8da6cf"><circle cx="367.8" cy="141.5" r="0.8"/><circle cx="372.1" cy="143.1" r="0.8"/><circle cx="326.2" cy="131.7" r="0.8"/><circle cx="333.6" cy="133.3" r="0.8"/><circle cx="337.3" cy="133.6" r="0.8"/><circle cx="338.5" cy="135.7" r="0.8"/><circle cx="425.2" cy="154.4" r="0.8"/><circle cx="437.8" cy="158.8" r="0.8"/><circle cx="449.0" cy="159.4" r="0.8"/><circle cx="461.5" cy="162.9" r="0.8"/></g>
<g stroke="#1a1a1a" fill="none"><line x1="312.0" y1="46" x2="312.0" y2="174.75" stroke-width="1.4"/><line x1="311.3" y1="174.75" x2="502" y2="174.75" stroke-width="1.6"/><line x1="308.6" y1="174.50" x2="312.0" y2="174.50" stroke-width="1"/><line x1="308.6" y1="143.50" x2="312.0" y2="143.50" stroke-width="1"/><line x1="308.6" y1="112.50" x2="312.0" y2="112.50" stroke-width="1"/><line x1="308.6" y1="81.50" x2="312.0" y2="81.50" stroke-width="1"/><line x1="308.6" y1="50.50" x2="312.0" y2="50.50" stroke-width="1"/><line x1="312.50" y1="174.75" x2="312.50" y2="177.75" stroke-width="1"/><line x1="343.50" y1="174.75" x2="343.50" y2="177.75" stroke-width="1"/><line x1="374.50" y1="174.75" x2="374.50" y2="177.75" stroke-width="1"/><line x1="405.50" y1="174.75" x2="405.50" y2="177.75" stroke-width="1"/><line x1="436.50" y1="174.75" x2="436.50" y2="177.75" stroke-width="1"/><line x1="467.50" y1="174.75" x2="467.50" y2="177.75" stroke-width="1"/><line x1="499.50" y1="174.75" x2="499.50" y2="177.75" stroke-width="1"/></g>
<g font-size="8.6" fill="#111" stroke="#111" stroke-width="0.22"><text x="305.70" y="177.70" text-anchor="end">0</text><text x="305.70" y="146.57" text-anchor="end">5</text><text x="305.70" y="115.44" text-anchor="end">10</text><text x="305.70" y="84.31" text-anchor="end">15</text><text x="305.70" y="53.18" text-anchor="end">20</text><text x="312.00" y="189.0" text-anchor="middle">0</text><text x="343.17" y="189.0" text-anchor="middle">6</text><text x="374.34" y="189.0" text-anchor="middle">12</text><text x="405.51" y="189.0" text-anchor="middle">18</text><text x="436.68" y="189.0" text-anchor="middle">24</text><text x="467.85" y="189.0" text-anchor="middle">30</text><text x="499.02" y="189.0" text-anchor="middle">36</text></g>
<text transform="translate(407.0,203.2) scale(0.67,1)" font-size="10.6" text-anchor="middle" fill="#111" stroke="#111" stroke-width="0.45">EFS (months)</text>
<text transform="translate(277.7,110.2) rotate(-90) scale(0.67,1)" font-size="10.6" text-anchor="middle" fill="#111" stroke="#111" stroke-width="0.45">Clinic visits, ER visits, hospitalizations</text>
<text transform="translate(288.7,110.2) rotate(-90) scale(0.67,1)" font-size="10.6" text-anchor="middle" fill="#111" stroke="#111" stroke-width="0.45">and consultations per OS month</text>
<text x="265.0" y="38.8" font-size="12" font-weight="bold" fill="#000" stroke="#000" stroke-width="0.3">B</text>
<text x="450.0" y="64.0" font-size="8" fill="#111" stroke="#111" stroke-width="0.15">r</text>
<rect x="454.9" y="60.35" width="5.8" height="0.95" fill="#222"/><rect x="454.9" y="62.05" width="5.8" height="0.95" fill="#222"/>
<text x="463.5" y="64.0" font-size="8.4" fill="#111" stroke="#111" stroke-width="0.15">-0.44</text>
<text x="450.0" y="76.7" font-size="8" fill="#111" stroke="#111" stroke-width="0.15">p&lt;0.001</text>
<g fill="#747aa6"><circle cx="76.0" cy="243.2" r="0.85"/><circle cx="77.0" cy="249.2" r="0.85"/><circle cx="67.5" cy="261.1" r="0.85"/><circle cx="72.9" cy="260.2" r="0.85"/><circle cx="76.6" cy="261.1" r="0.85"/><circle cx="66.6" cy="263.6" r="0.85"/><circle cx="67.5" cy="265.2" r="0.85"/><circle cx="67.2" cy="266.1" r="0.85"/><circle cx="69.1" cy="265.5" r="0.85"/><circle cx="76.6" cy="271.5" r="0.85"/><circle cx="66.6" cy="274.9" r="0.85"/><circle cx="81.6" cy="277.0" r="0.85"/><circle cx="83.8" cy="275.2" r="0.85"/><circle cx="74.5" cy="279.2" r="0.85"/><circle cx="68.2" cy="284.0" r="0.85"/><circle cx="75.4" cy="285.9" r="0.85"/><circle cx="63.7" cy="293.2" r="0.85"/><circle cx="67.1" cy="292.3" r="0.85"/><circle cx="69.3" cy="292.4" r="0.85"/><circle cx="71.1" cy="290.6" r="0.85"/><circle cx="74.8" cy="289.9" r="0.85"/><circle cx="73.3" cy="292.9" r="0.85"/><circle cx="79.5" cy="292.3" r="0.85"/><circle cx="84.1" cy="293.6" r="0.85"/><circle cx="87.5" cy="295.1" r="0.85"/><circle cx="61.9" cy="297.9" r="0.85"/><circle cx="66.5" cy="298.8" r="0.85"/><circle cx="67.1" cy="297.8" r="0.85"/><circle cx="73.9" cy="296.0" r="0.85"/><circle cx="75.1" cy="297.1" r="0.85"/><circle cx="81.6" cy="297.9" r="0.85"/><circle cx="84.4" cy="297.9" r="0.85"/><circle cx="85.0" cy="302.1" r="0.85"/><circle cx="69.6" cy="301.6" r="0.85"/><circle cx="71.1" cy="300.6" r="0.85"/><circle cx="70.2" cy="306.2" r="0.85"/><circle cx="72.4" cy="307.9" r="0.85"/><circle cx="74.8" cy="305.6" r="0.85"/><circle cx="67.4" cy="309.6" r="0.85"/><circle cx="74.8" cy="309.9" r="0.85"/><circle cx="75.4" cy="310.8" r="0.85"/><circle cx="78.5" cy="309.6" r="0.85"/><circle cx="79.8" cy="311.1" r="0.85"/><circle cx="80.7" cy="310.2" r="0.85"/><circle cx="81.0" cy="308.4" r="0.85"/><circle cx="83.8" cy="309.6" r="0.85"/><circle cx="84.1" cy="306.8" r="0.85"/><circle cx="85.0" cy="306.5" r="0.85"/><circle cx="87.5" cy="308.7" r="0.85"/><circle cx="68.7" cy="312.4" r="0.85"/><circle cx="70.5" cy="312.4" r="0.85"/><circle cx="73.9" cy="312.4" r="0.85"/><circle cx="77.0" cy="312.4" r="0.85"/><circle cx="85.0" cy="312.4" r="0.85"/><circle cx="92.8" cy="292.9" r="0.85"/><circle cx="94.5" cy="306.2" r="0.85"/><circle cx="102.4" cy="307.2" r="0.85"/><circle cx="106.5" cy="309.8" r="0.85"/><circle cx="109.5" cy="309.0" r="0.85"/><circle cx="93.2" cy="311.0" r="0.85"/><circle cx="96.8" cy="310.0" r="0.85"/><circle cx="96.5" cy="311.9" r="0.85"/><circle cx="131.5" cy="311.2" r="0.85"/><circle cx="144.9" cy="310.2" r="0.85"/><circle cx="74.2" cy="313.9" r="0.85"/><circle cx="75.1" cy="315.2" r="0.85"/><circle cx="77.3" cy="313.6" r="0.85"/><circle cx="78.2" cy="314.9" r="0.85"/><circle cx="79.2" cy="316.1" r="0.85"/><circle cx="82.5" cy="314.9" r="0.85"/><circle cx="84.7" cy="313.3" r="0.85"/><circle cx="69.3" cy="317.0" r="0.85"/><circle cx="69.9" cy="317.6" r="0.85"/><circle cx="71.1" cy="317.3" r="0.85"/><circle cx="73.9" cy="316.7" r="0.85"/><circle cx="77.0" cy="317.4" r="0.85"/><circle cx="80.1" cy="318.2" r="0.85"/><circle cx="84.7" cy="318.9" r="0.85"/><circle cx="62.5" cy="321.6" r="0.85"/><circle cx="68.7" cy="321.9" r="0.85"/><circle cx="68.3" cy="320.7" r="0.85"/><circle cx="72.4" cy="322.3" r="0.85"/><circle cx="72.7" cy="323.2" r="0.85"/><circle cx="78.5" cy="321.0" r="0.85"/><circle cx="79.5" cy="323.2" r="0.85"/><circle cx="86.9" cy="321.6" r="0.85"/><circle cx="87.5" cy="325.6" r="0.85"/><circle cx="67.4" cy="326.6" r="0.85"/><circle cx="70.5" cy="325.4" r="0.85"/><circle cx="72.4" cy="325.0" r="0.85"/><circle cx="74.2" cy="325.0" r="0.85"/><circle cx="71.1" cy="328.1" r="0.85"/><circle cx="73.3" cy="328.4" r="0.85"/><circle cx="74.5" cy="329.4" r="0.85"/><circle cx="75.4" cy="327.5" r="0.85"/><circle cx="79.2" cy="326.3" r="0.85"/><circle cx="80.4" cy="328.1" r="0.85"/><circle cx="81.0" cy="329.4" r="0.85"/><circle cx="85.3" cy="328.4" r="0.85"/><circle cx="69.3" cy="331.5" r="0.85"/><circle cx="70.8" cy="332.8" r="0.85"/><circle cx="73.9" cy="332.3" r="0.85"/><circle cx="81.3" cy="330.9" r="0.85"/><circle cx="81.9" cy="332.1" r="0.85"/><circle cx="83.2" cy="332.8" r="0.85"/><circle cx="84.1" cy="331.8" r="0.85"/><circle cx="84.7" cy="334.0" r="0.85"/><circle cx="80.4" cy="333.4" r="0.85"/><circle cx="65.6" cy="334.9" r="0.85"/><circle cx="67.1" cy="336.5" r="0.85"/><circle cx="72.7" cy="335.5" r="0.85"/><circle cx="77.9" cy="334.6" r="0.85"/><circle cx="77.9" cy="336.1" r="0.85"/><circle cx="79.5" cy="335.2" r="0.85"/><circle cx="80.7" cy="336.8" r="0.85"/><circle cx="70.2" cy="337.4" r="0.85"/><circle cx="93.9" cy="313.5" r="0.85"/><circle cx="99.4" cy="314.2" r="0.85"/><circle cx="104.4" cy="314.4" r="0.85"/><circle cx="95.1" cy="316.1" r="0.85"/><circle cx="109.9" cy="318.9" r="0.85"/><circle cx="115.2" cy="318.4" r="0.85"/><circle cx="91.7" cy="322.9" r="0.85"/><circle cx="92.9" cy="321.9" r="0.85"/><circle cx="94.5" cy="320.4" r="0.85"/><circle cx="97.3" cy="322.6" r="0.85"/><circle cx="95.7" cy="324.7" r="0.85"/><circle cx="95.7" cy="326.0" r="0.85"/><circle cx="97.9" cy="325.4" r="0.85"/><circle cx="100.3" cy="323.5" r="0.85"/><circle cx="101.0" cy="324.7" r="0.85"/><circle cx="103.4" cy="320.4" r="0.85"/><circle cx="104.4" cy="321.0" r="0.85"/><circle cx="103.1" cy="322.6" r="0.85"/><circle cx="108.4" cy="323.2" r="0.85"/><circle cx="109.6" cy="324.4" r="0.85"/><circle cx="111.5" cy="325.4" r="0.85"/><circle cx="111.2" cy="326.9" r="0.85"/><circle cx="119.5" cy="327.2" r="0.85"/><circle cx="92.3" cy="327.5" r="0.85"/><circle cx="95.4" cy="328.1" r="0.85"/><circle cx="107.1" cy="329.1" r="0.85"/><circle cx="108.7" cy="328.4" r="0.85"/><circle cx="109.6" cy="329.4" r="0.85"/><circle cx="112.4" cy="330.6" r="0.85"/><circle cx="89.2" cy="330.9" r="0.85"/><circle cx="91.1" cy="330.6" r="0.85"/><circle cx="97.6" cy="332.8" r="0.85"/><circle cx="99.7" cy="334.6" r="0.85"/><circle cx="102.5" cy="333.1" r="0.85"/><circle cx="103.4" cy="331.5" r="0.85"/><circle cx="90.8" cy="335.2" r="0.85"/><circle cx="94.2" cy="336.8" r="0.85"/><circle cx="98.5" cy="337.7" r="0.85"/><circle cx="107.1" cy="336.5" r="0.85"/><circle cx="111.5" cy="334.6" r="0.85"/><circle cx="111.8" cy="336.5" r="0.85"/><circle cx="115.2" cy="336.8" r="0.85"/><circle cx="116.4" cy="334.3" r="0.85"/><circle cx="67.1" cy="341.2" r="0.85"/><circle cx="68.7" cy="342.9" r="0.85"/><circle cx="80.0" cy="343.4" r="0.85"/><circle cx="81.4" cy="341.9" r="0.85"/><circle cx="84.3" cy="340.1" r="0.85"/><circle cx="76.8" cy="346.2" r="0.85"/><circle cx="81.4" cy="345.5" r="0.85"/><circle cx="86.4" cy="346.7" r="0.85"/><circle cx="68.5" cy="349.4" r="0.85"/><circle cx="70.7" cy="348.6" r="0.85"/><circle cx="66.4" cy="351.6" r="0.85"/><circle cx="66.7" cy="352.3" r="0.85"/><circle cx="66.0" cy="352.7" r="0.85"/><circle cx="70.3" cy="352.0" r="0.85"/><circle cx="68.5" cy="355.0" r="0.85"/><circle cx="77.5" cy="350.3" r="0.85"/><circle cx="78.9" cy="348.6" r="0.85"/><circle cx="83.2" cy="349.8" r="0.85"/><circle cx="78.9" cy="352.9" r="0.85"/><circle cx="81.4" cy="354.8" r="0.85"/><circle cx="75.3" cy="355.5" r="0.85"/><circle cx="74.2" cy="357.2" r="0.85"/><circle cx="79.3" cy="357.5" r="0.85"/><circle cx="66.0" cy="358.6" r="0.85"/><circle cx="68.7" cy="360.3" r="0.85"/><circle cx="70.7" cy="361.3" r="0.85"/><circle cx="71.8" cy="358.9" r="0.85"/><circle cx="77.8" cy="360.6" r="0.85"/><circle cx="82.5" cy="365.3" r="0.85"/><circle cx="85.3" cy="365.6" r="0.85"/><circle cx="87.5" cy="363.8" r="0.85"/><circle cx="97.7" cy="340.1" r="0.85"/><circle cx="99.5" cy="341.0" r="0.85"/><circle cx="102.0" cy="341.4" r="0.85"/><circle cx="103.0" cy="340.9" r="0.85"/><circle cx="104.8" cy="341.4" r="0.85"/><circle cx="107.3" cy="341.2" r="0.85"/><circle cx="103.8" cy="343.1" r="0.85"/><circle cx="110.5" cy="341.6" r="0.85"/><circle cx="112.0" cy="341.6" r="0.85"/><circle cx="113.8" cy="341.4" r="0.85"/><circle cx="116.6" cy="338.4" r="0.85"/><circle cx="91.4" cy="344.3" r="0.85"/><circle cx="97.0" cy="343.4" r="0.85"/><circle cx="97.0" cy="345.3" r="0.85"/><circle cx="97.0" cy="347.3" r="0.85"/><circle cx="105.9" cy="347.3" r="0.85"/><circle cx="108.4" cy="345.5" r="0.85"/><circle cx="110.9" cy="344.8" r="0.85"/><circle cx="112.7" cy="345.7" r="0.85"/><circle cx="110.9" cy="347.3" r="0.85"/><circle cx="116.6" cy="344.4" r="0.85"/><circle cx="116.6" cy="346.2" r="0.85"/><circle cx="117.0" cy="348.4" r="0.85"/><circle cx="89.4" cy="349.3" r="0.85"/><circle cx="96.2" cy="350.9" r="0.85"/><circle cx="98.4" cy="350.3" r="0.85"/><circle cx="95.2" cy="352.7" r="0.85"/><circle cx="93.0" cy="353.0" r="0.85"/><circle cx="91.4" cy="354.3" r="0.85"/><circle cx="100.3" cy="352.5" r="0.85"/><circle cx="104.5" cy="351.2" r="0.85"/><circle cx="109.5" cy="351.2" r="0.85"/><circle cx="109.1" cy="352.0" r="0.85"/><circle cx="117.7" cy="351.6" r="0.85"/><circle cx="100.7" cy="354.6" r="0.85"/><circle cx="105.3" cy="355.0" r="0.85"/><circle cx="119.5" cy="356.8" r="0.85"/><circle cx="89.8" cy="357.5" r="0.85"/><circle cx="94.6" cy="357.9" r="0.85"/><circle cx="111.6" cy="359.3" r="0.85"/><circle cx="94.1" cy="360.9" r="0.85"/><circle cx="96.6" cy="360.2" r="0.85"/><circle cx="98.0" cy="360.6" r="0.85"/><circle cx="98.7" cy="362.0" r="0.85"/><circle cx="100.9" cy="361.3" r="0.85"/><circle cx="96.6" cy="362.0" r="0.85"/><circle cx="94.6" cy="363.4" r="0.85"/><circle cx="114.5" cy="363.6" r="0.85"/><circle cx="88.4" cy="363.9" r="0.85"/><circle cx="121.4" cy="323.6" r="0.85"/><circle cx="121.6" cy="326.6" r="0.85"/><circle cx="125.7" cy="325.9" r="0.85"/><circle cx="125.4" cy="327.6" r="0.85"/><circle cx="128.4" cy="321.4" r="0.85"/><circle cx="121.4" cy="330.0" r="0.85"/><circle cx="127.5" cy="330.6" r="0.85"/><circle cx="126.8" cy="334.4" r="0.85"/><circle cx="128.8" cy="334.4" r="0.85"/><circle cx="129.8" cy="335.4" r="0.85"/><circle cx="120.7" cy="334.4" r="0.85"/><circle cx="137.6" cy="329.0" r="0.85"/><circle cx="137.6" cy="333.6" r="0.85"/><circle cx="147.1" cy="328.2" r="0.85"/><circle cx="150.9" cy="322.8" r="0.85"/><circle cx="144.4" cy="335.8" r="0.85"/><circle cx="137.6" cy="338.8" r="0.85"/><circle cx="153.7" cy="338.5" r="0.85"/><circle cx="162.7" cy="338.1" r="0.85"/><circle cx="166.1" cy="338.5" r="0.85"/><circle cx="173.6" cy="335.0" r="0.85"/><circle cx="175.6" cy="340.8" r="0.85"/><circle cx="179.7" cy="339.9" r="0.85"/><circle cx="181.7" cy="337.7" r="0.85"/><circle cx="122.0" cy="339.5" r="0.85"/><circle cx="123.4" cy="342.2" r="0.85"/><circle cx="124.8" cy="341.8" r="0.85"/><circle cx="121.4" cy="345.6" r="0.85"/><circle cx="122.7" cy="346.2" r="0.85"/><circle cx="131.5" cy="344.9" r="0.85"/><circle cx="132.9" cy="348.0" r="0.85"/><circle cx="125.4" cy="349.4" r="0.85"/><circle cx="127.5" cy="348.6" r="0.85"/><circle cx="141.7" cy="344.9" r="0.85"/><circle cx="144.4" cy="344.2" r="0.85"/><circle cx="145.1" cy="346.9" r="0.85"/><circle cx="151.9" cy="343.9" r="0.85"/><circle cx="152.6" cy="345.6" r="0.85"/><circle cx="160.7" cy="342.6" r="0.85"/><circle cx="165.4" cy="341.8" r="0.85"/><circle cx="167.5" cy="343.1" r="0.85"/><circle cx="168.8" cy="346.9" r="0.85"/><circle cx="172.2" cy="348.0" r="0.85"/><circle cx="166.8" cy="349.4" r="0.85"/><circle cx="181.7" cy="349.4" r="0.85"/><circle cx="120.7" cy="353.0" r="0.85"/><circle cx="122.7" cy="353.0" r="0.85"/><circle cx="123.4" cy="355.7" r="0.85"/><circle cx="122.0" cy="356.4" r="0.85"/><circle cx="127.5" cy="352.4" r="0.85"/><circle cx="127.5" cy="356.4" r="0.85"/><circle cx="128.1" cy="357.8" r="0.85"/><circle cx="134.9" cy="353.7" r="0.85"/><circle cx="135.6" cy="354.8" r="0.85"/><circle cx="138.3" cy="355.1" r="0.85"/><circle cx="141.0" cy="351.7" r="0.85"/><circle cx="141.7" cy="355.7" r="0.85"/><circle cx="145.1" cy="349.6" r="0.85"/><circle cx="145.8" cy="353.4" r="0.85"/><circle cx="150.5" cy="352.4" r="0.85"/><circle cx="146.5" cy="357.1" r="0.85"/><circle cx="152.6" cy="357.1" r="0.85"/><circle cx="153.2" cy="358.9" r="0.85"/><circle cx="155.3" cy="358.9" r="0.85"/><circle cx="160.0" cy="354.4" r="0.85"/><circle cx="160.7" cy="356.4" r="0.85"/><circle cx="162.7" cy="352.4" r="0.85"/><circle cx="164.1" cy="353.7" r="0.85"/><circle cx="167.5" cy="351.7" r="0.85"/><circle cx="174.9" cy="357.8" r="0.85"/><circle cx="182.4" cy="354.4" r="0.85"/><circle cx="124.8" cy="358.4" r="0.85"/><circle cx="130.8" cy="359.8" r="0.85"/><circle cx="130.2" cy="361.9" r="0.85"/><circle cx="140.3" cy="359.8" r="0.85"/><circle cx="141.7" cy="360.2" r="0.85"/><circle cx="145.1" cy="359.8" r="0.85"/><circle cx="145.8" cy="360.5" r="0.85"/><circle cx="134.9" cy="363.9" r="0.85"/><circle cx="136.3" cy="364.3" r="0.85"/><circle cx="147.8" cy="363.9" r="0.85"/><circle cx="158.0" cy="364.3" r="0.85"/><circle cx="159.3" cy="361.9" r="0.85"/><circle cx="166.8" cy="362.5" r="0.85"/><circle cx="170.9" cy="361.6" r="0.85"/><circle cx="179.7" cy="363.2" r="0.85"/><circle cx="181.7" cy="361.9" r="0.85"/><circle cx="170.2" cy="365.2" r="0.85"/><circle cx="188.4" cy="329.6" r="0.85"/><circle cx="187.7" cy="341.2" r="0.85"/><circle cx="211.9" cy="340.8" r="0.85"/><circle cx="228.2" cy="340.1" r="0.85"/><circle cx="187.0" cy="349.0" r="0.85"/><circle cx="190.7" cy="351.7" r="0.85"/><circle cx="189.1" cy="354.0" r="0.85"/><circle cx="192.5" cy="356.7" r="0.85"/><circle cx="196.1" cy="348.0" r="0.85"/><circle cx="199.9" cy="351.7" r="0.85"/><circle cx="202.4" cy="352.6" r="0.85"/><circle cx="204.7" cy="347.6" r="0.85"/><circle cx="209.7" cy="353.0" r="0.85"/><circle cx="214.8" cy="349.6" r="0.85"/><circle cx="202.0" cy="359.1" r="0.85"/><circle cx="205.1" cy="358.9" r="0.85"/><circle cx="201.3" cy="362.5" r="0.85"/><circle cx="228.7" cy="356.4" r="0.85"/><circle cx="232.5" cy="357.8" r="0.85"/><circle cx="226.4" cy="362.9" r="0.85"/></g>
<line x1="61.9" y1="318.7" x2="220.0" y2="366.75" stroke="#a8001f" stroke-width="1.55"/>
<g fill="#8da6cf"><circle cx="68.7" cy="321.9" r="0.8"/><circle cx="68.3" cy="320.7" r="0.8"/><circle cx="72.4" cy="322.3" r="0.8"/><circle cx="72.7" cy="323.2" r="0.8"/><circle cx="79.5" cy="323.2" r="0.8"/><circle cx="87.5" cy="325.6" r="0.8"/><circle cx="92.3" cy="327.5" r="0.8"/><circle cx="95.4" cy="328.1" r="0.8"/><circle cx="103.4" cy="331.5" r="0.8"/><circle cx="111.5" cy="334.6" r="0.8"/><circle cx="116.4" cy="334.3" r="0.8"/><circle cx="144.4" cy="344.2" r="0.8"/><circle cx="152.6" cy="345.6" r="0.8"/><circle cx="166.8" cy="349.4" r="0.8"/><circle cx="167.5" cy="351.7" r="0.8"/><circle cx="182.4" cy="354.4" r="0.8"/></g>
<g stroke="#1a1a1a" fill="none"><line x1="55.7" y1="240" x2="55.7" y2="367" stroke-width="1.4"/><line x1="55.0" y1="367" x2="245.5" y2="367" stroke-width="1.6"/><line x1="52.300000000000004" y1="367.50" x2="55.7" y2="367.50" stroke-width="1"/><line x1="52.300000000000004" y1="346.50" x2="55.7" y2="346.50" stroke-width="1"/><line x1="52.300000000000004" y1="326.50" x2="55.7" y2="326.50" stroke-width="1"/><line x1="52.300000000000004" y1="305.50" x2="55.7" y2="305.50" stroke-width="1"/><line x1="52.300000000000004" y1="285.50" x2="55.7" y2="285.50" stroke-width="1"/><line x1="52.300000000000004" y1="264.50" x2="55.7" y2="264.50" stroke-width="1"/><line x1="52.300000000000004" y1="244.50" x2="55.7" y2="244.50" stroke-width="1"/><line x1="55.50" y1="367" x2="55.50" y2="370.0" stroke-width="1"/><line x1="86.50" y1="367" x2="86.50" y2="370.0" stroke-width="1"/><line x1="117.50" y1="367" x2="117.50" y2="370.0" stroke-width="1"/><line x1="149.50" y1="367" x2="149.50" y2="370.0" stroke-width="1"/><line x1="180.50" y1="367" x2="180.50" y2="370.0" stroke-width="1"/><line x1="211.50" y1="367" x2="211.50" y2="370.0" stroke-width="1"/><line x1="242.50" y1="367" x2="242.50" y2="370.0" stroke-width="1"/></g>
<g font-size="8.6" fill="#111" stroke="#111" stroke-width="0.22"><text x="49.40" y="369.95" text-anchor="end">0</text><text x="49.40" y="349.48" text-anchor="end">15</text><text x="49.40" y="329.01" text-anchor="end">30</text><text x="49.40" y="308.54" text-anchor="end">45</text><text x="49.40" y="288.07" text-anchor="end">60</text><text x="49.40" y="267.60" text-anchor="end">75</text><text x="49.40" y="247.13" text-anchor="end">90</text><text x="55.60" y="381.0" text-anchor="middle">0</text><text x="86.75" y="381.0" text-anchor="middle">6</text><text x="117.90" y="381.0" text-anchor="middle">12</text><text x="149.05" y="381.0" text-anchor="middle">18</text><text x="180.20" y="381.0" text-anchor="middle">24</text><text x="211.35" y="381.0" text-anchor="middle">30</text><text x="242.50" y="381.0" text-anchor="middle">36</text></g>
<text transform="translate(150.6,395.2) scale(0.67,1)" font-size="10.6" text-anchor="middle" fill="#111" stroke="#111" stroke-width="0.45">EFS (months)</text>
<text transform="translate(20.9,303.0) rotate(-90) scale(0.67,1)" font-size="10.6" text-anchor="middle" fill="#111" stroke="#111" stroke-width="0.45">Invasive procedures, laboratory</text>
<text transform="translate(32.0,303.0) rotate(-90) scale(0.67,1)" font-size="10.6" text-anchor="middle" fill="#111" stroke="#111" stroke-width="0.45">and imaging studies per OS month</text>
<text x="7.8" y="233.3" font-size="12" font-weight="bold" fill="#000" stroke="#000" stroke-width="0.3">C</text>
<text x="193.8" y="256.8" font-size="8" fill="#111" stroke="#111" stroke-width="0.15">r</text>
<rect x="198.0" y="253.15" width="5.8" height="0.95" fill="#222"/><rect x="198.0" y="254.85" width="5.8" height="0.95" fill="#222"/>
<text x="205.8" y="256.8" font-size="8.0" fill="#111" stroke="#111" stroke-width="0.15">-0.51</text>
<text x="193.8" y="269.5" font-size="8" fill="#111" stroke="#111" stroke-width="0.15">p&lt;0.001</text>
<g fill="#747aa6"><circle cx="325.8" cy="240.5" r="0.85"/><circle cx="324.0" cy="244.2" r="0.85"/><circle cx="327.0" cy="304.2" r="0.85"/><circle cx="328.2" cy="309.8" r="0.85"/><circle cx="345.8" cy="304.2" r="0.85"/><circle cx="350.2" cy="302.2" r="0.85"/><circle cx="355.0" cy="303.8" r="0.85"/><circle cx="375.8" cy="306.0" r="0.85"/><circle cx="395.0" cy="301.2" r="0.85"/><circle cx="426.5" cy="303.8" r="0.85"/><circle cx="326.5" cy="320.5" r="0.85"/><circle cx="329.5" cy="319.8" r="0.85"/><circle cx="341.5" cy="319.8" r="0.85"/><circle cx="345.8" cy="319.8" r="0.85"/><circle cx="353.2" cy="318.8" r="0.85"/><circle cx="352.0" cy="321.8" r="0.85"/><circle cx="324.0" cy="326.0" r="0.85"/><circle cx="332.0" cy="326.8" r="0.85"/><circle cx="334.0" cy="328.0" r="0.85"/><circle cx="337.0" cy="329.2" r="0.85"/><circle cx="352.5" cy="327.5" r="0.85"/><circle cx="370.8" cy="324.2" r="0.85"/><circle cx="373.2" cy="325.5" r="0.85"/><circle cx="371.2" cy="327.2" r="0.85"/><circle cx="364.5" cy="329.2" r="0.85"/><circle cx="397.5" cy="330.5" r="0.85"/><circle cx="338.2" cy="333.5" r="0.85"/><circle cx="340.0" cy="331.8" r="0.85"/><circle cx="342.0" cy="333.0" r="0.85"/><circle cx="345.8" cy="332.2" r="0.85"/><circle cx="363.2" cy="335.0" r="0.85"/><circle cx="369.0" cy="334.2" r="0.85"/><circle cx="370.2" cy="335.5" r="0.85"/><circle cx="327.1" cy="336.0" r="0.85"/><circle cx="338.9" cy="336.2" r="0.85"/><circle cx="318.5" cy="340.5" r="0.85"/><circle cx="324.6" cy="341.1" r="0.85"/><circle cx="325.4" cy="340.7" r="0.85"/><circle cx="331.1" cy="339.5" r="0.85"/><circle cx="331.6" cy="341.1" r="0.85"/><circle cx="334.0" cy="343.6" r="0.85"/><circle cx="343.0" cy="343.8" r="0.85"/><circle cx="323.8" cy="346.0" r="0.85"/><circle cx="326.3" cy="345.6" r="0.85"/><circle cx="328.7" cy="344.9" r="0.85"/><circle cx="329.5" cy="346.0" r="0.85"/><circle cx="346.6" cy="347.1" r="0.85"/><circle cx="341.8" cy="348.0" r="0.85"/><circle cx="349.5" cy="338.7" r="0.85"/><circle cx="350.3" cy="340.7" r="0.85"/><circle cx="351.1" cy="343.1" r="0.85"/><circle cx="323.4" cy="349.3" r="0.85"/><circle cx="323.8" cy="350.9" r="0.85"/><circle cx="332.4" cy="349.3" r="0.85"/><circle cx="332.0" cy="350.9" r="0.85"/><circle cx="335.6" cy="349.7" r="0.85"/><circle cx="338.1" cy="351.7" r="0.85"/><circle cx="333.6" cy="351.7" r="0.85"/><circle cx="330.7" cy="351.7" r="0.85"/><circle cx="326.3" cy="352.5" r="0.85"/><circle cx="318.9" cy="356.6" r="0.85"/><circle cx="320.1" cy="356.0" r="0.85"/><circle cx="322.2" cy="355.0" r="0.85"/><circle cx="324.2" cy="354.1" r="0.85"/><circle cx="325.4" cy="355.0" r="0.85"/><circle cx="327.1" cy="355.8" r="0.85"/><circle cx="328.3" cy="355.0" r="0.85"/><circle cx="329.5" cy="356.4" r="0.85"/><circle cx="331.6" cy="357.0" r="0.85"/><circle cx="333.6" cy="355.8" r="0.85"/><circle cx="334.8" cy="354.6" r="0.85"/><circle cx="336.0" cy="356.4" r="0.85"/><circle cx="336.9" cy="357.0" r="0.85"/><circle cx="338.1" cy="355.8" r="0.85"/><circle cx="339.7" cy="356.6" r="0.85"/><circle cx="340.5" cy="355.0" r="0.85"/><circle cx="341.8" cy="356.4" r="0.85"/><circle cx="343.4" cy="354.6" r="0.85"/><circle cx="344.2" cy="357.4" r="0.85"/><circle cx="348.7" cy="355.8" r="0.85"/><circle cx="350.3" cy="357.0" r="0.85"/><circle cx="351.1" cy="358.6" r="0.85"/><circle cx="323.4" cy="358.6" r="0.85"/><circle cx="325.0" cy="359.4" r="0.85"/><circle cx="327.1" cy="358.2" r="0.85"/><circle cx="328.3" cy="359.4" r="0.85"/><circle cx="332.4" cy="359.4" r="0.85"/><circle cx="334.0" cy="360.3" r="0.85"/><circle cx="335.6" cy="359.4" r="0.85"/><circle cx="337.3" cy="361.1" r="0.85"/><circle cx="338.9" cy="360.7" r="0.85"/><circle cx="340.5" cy="359.4" r="0.85"/><circle cx="342.6" cy="360.3" r="0.85"/><circle cx="344.6" cy="361.1" r="0.85"/><circle cx="346.2" cy="359.9" r="0.85"/><circle cx="348.3" cy="361.9" r="0.85"/><circle cx="349.9" cy="360.3" r="0.85"/><circle cx="324.2" cy="361.9" r="0.85"/><circle cx="326.3" cy="363.1" r="0.85"/><circle cx="327.9" cy="362.3" r="0.85"/><circle cx="329.5" cy="363.1" r="0.85"/><circle cx="331.6" cy="361.9" r="0.85"/><circle cx="333.2" cy="363.5" r="0.85"/><circle cx="335.2" cy="362.7" r="0.85"/><circle cx="336.4" cy="363.9" r="0.85"/><circle cx="338.1" cy="362.3" r="0.85"/><circle cx="340.1" cy="363.1" r="0.85"/><circle cx="342.1" cy="362.7" r="0.85"/><circle cx="343.8" cy="363.9" r="0.85"/><circle cx="345.4" cy="362.7" r="0.85"/><circle cx="347.9" cy="363.5" r="0.85"/><circle cx="349.5" cy="364.3" r="0.85"/><circle cx="323.4" cy="366.0" r="0.85"/><circle cx="325.9" cy="366.4" r="0.85"/><circle cx="328.3" cy="366.0" r="0.85"/><circle cx="330.7" cy="365.8" r="0.85"/><circle cx="333.2" cy="366.4" r="0.85"/><circle cx="335.6" cy="366.0" r="0.85"/><circle cx="338.1" cy="366.4" r="0.85"/><circle cx="340.1" cy="366.0" r="0.85"/><circle cx="343.0" cy="366.4" r="0.85"/><circle cx="346.2" cy="366.0" r="0.85"/><circle cx="349.1" cy="366.4" r="0.85"/><circle cx="357.7" cy="336.8" r="0.85"/><circle cx="363.4" cy="335.4" r="0.85"/><circle cx="370.3" cy="335.4" r="0.85"/><circle cx="380.5" cy="335.8" r="0.85"/><circle cx="387.4" cy="335.8" r="0.85"/><circle cx="368.3" cy="339.5" r="0.85"/><circle cx="378.9" cy="338.4" r="0.85"/><circle cx="374.0" cy="340.9" r="0.85"/><circle cx="375.6" cy="340.7" r="0.85"/><circle cx="380.5" cy="340.9" r="0.85"/><circle cx="382.6" cy="340.3" r="0.85"/><circle cx="384.2" cy="340.1" r="0.85"/><circle cx="390.3" cy="339.5" r="0.85"/><circle cx="358.9" cy="342.7" r="0.85"/><circle cx="368.3" cy="342.7" r="0.85"/><circle cx="375.6" cy="342.7" r="0.85"/><circle cx="352.4" cy="344.8" r="0.85"/><circle cx="356.5" cy="346.4" r="0.85"/><circle cx="356.9" cy="347.2" r="0.85"/><circle cx="362.6" cy="347.2" r="0.85"/><circle cx="372.4" cy="344.8" r="0.85"/><circle cx="380.1" cy="344.6" r="0.85"/><circle cx="382.1" cy="344.4" r="0.85"/><circle cx="375.6" cy="346.0" r="0.85"/><circle cx="367.9" cy="347.1" r="0.85"/><circle cx="369.5" cy="347.2" r="0.85"/><circle cx="370.7" cy="346.8" r="0.85"/><circle cx="373.6" cy="348.0" r="0.85"/><circle cx="353.6" cy="349.3" r="0.85"/><circle cx="355.7" cy="350.1" r="0.85"/><circle cx="360.6" cy="349.3" r="0.85"/><circle cx="365.4" cy="349.7" r="0.85"/><circle cx="366.7" cy="350.1" r="0.85"/><circle cx="369.5" cy="350.1" r="0.85"/><circle cx="385.0" cy="348.9" r="0.85"/><circle cx="388.7" cy="350.9" r="0.85"/><circle cx="383.8" cy="352.1" r="0.85"/><circle cx="360.1" cy="353.7" r="0.85"/><circle cx="370.3" cy="354.1" r="0.85"/><circle cx="375.2" cy="354.6" r="0.85"/><circle cx="378.9" cy="353.3" r="0.85"/><circle cx="387.4" cy="355.8" r="0.85"/><circle cx="353.6" cy="356.8" r="0.85"/><circle cx="355.3" cy="357.0" r="0.85"/><circle cx="352.8" cy="358.6" r="0.85"/><circle cx="358.5" cy="356.6" r="0.85"/><circle cx="361.8" cy="356.6" r="0.85"/><circle cx="365.0" cy="356.2" r="0.85"/><circle cx="367.1" cy="356.2" r="0.85"/><circle cx="363.8" cy="358.2" r="0.85"/><circle cx="365.4" cy="358.6" r="0.85"/><circle cx="368.7" cy="357.8" r="0.85"/><circle cx="358.1" cy="359.4" r="0.85"/><circle cx="364.2" cy="360.3" r="0.85"/><circle cx="379.7" cy="357.4" r="0.85"/><circle cx="380.5" cy="359.0" r="0.85"/><circle cx="387.0" cy="358.6" r="0.85"/><circle cx="355.3" cy="362.3" r="0.85"/><circle cx="356.5" cy="363.1" r="0.85"/><circle cx="358.9" cy="361.5" r="0.85"/><circle cx="360.6" cy="361.9" r="0.85"/><circle cx="368.3" cy="361.5" r="0.85"/><circle cx="369.1" cy="362.3" r="0.85"/><circle cx="367.9" cy="363.9" r="0.85"/><circle cx="369.9" cy="363.9" r="0.85"/><circle cx="373.2" cy="364.3" r="0.85"/><circle cx="375.6" cy="362.3" r="0.85"/><circle cx="376.9" cy="363.5" r="0.85"/><circle cx="381.3" cy="361.1" r="0.85"/><circle cx="382.6" cy="362.3" r="0.85"/><circle cx="383.8" cy="363.5" r="0.85"/><circle cx="386.2" cy="361.1" r="0.85"/><circle cx="387.4" cy="363.1" r="0.85"/><circle cx="385.8" cy="363.9" r="0.85"/><circle cx="353.6" cy="366.4" r="0.85"/><circle cx="355.3" cy="366.4" r="0.85"/><circle cx="357.7" cy="366.4" r="0.85"/><circle cx="360.1" cy="366.4" r="0.85"/><circle cx="362.6" cy="366.0" r="0.85"/><circle cx="365.0" cy="366.4" r="0.85"/><circle cx="367.9" cy="366.4" r="0.85"/><circle cx="383.0" cy="366.0" r="0.85"/><circle cx="385.0" cy="366.4" r="0.85"/><circle cx="389.1" cy="366.0" r="0.85"/><circle cx="411.0" cy="336.8" r="0.85"/><circle cx="401.5" cy="344.4" r="0.85"/><circle cx="404.1" cy="345.8" r="0.85"/><circle cx="407.0" cy="344.0" r="0.85"/><circle cx="407.6" cy="343.4" r="0.85"/><circle cx="397.8" cy="348.6" r="0.85"/><circle cx="422.9" cy="343.7" r="0.85"/><circle cx="404.1" cy="353.3" r="0.85"/><circle cx="437.0" cy="353.3" r="0.85"/><circle cx="413.3" cy="354.8" r="0.85"/><circle cx="411.6" cy="355.6" r="0.85"/><circle cx="415.1" cy="355.2" r="0.85"/><circle cx="421.4" cy="357.1" r="0.85"/><circle cx="424.9" cy="357.5" r="0.85"/><circle cx="434.1" cy="357.9" r="0.85"/><circle cx="440.4" cy="357.1" r="0.85"/><circle cx="442.8" cy="355.9" r="0.85"/><circle cx="442.8" cy="357.9" r="0.85"/><circle cx="449.1" cy="357.5" r="0.85"/><circle cx="392.6" cy="357.1" r="0.85"/><circle cx="397.2" cy="358.4" r="0.85"/><circle cx="401.8" cy="359.6" r="0.85"/><circle cx="404.7" cy="358.4" r="0.85"/><circle cx="405.8" cy="360.8" r="0.85"/><circle cx="407.0" cy="362.5" r="0.85"/><circle cx="433.5" cy="359.6" r="0.85"/><circle cx="442.8" cy="359.6" r="0.85"/><circle cx="446.8" cy="359.0" r="0.85"/><circle cx="450.2" cy="359.6" r="0.85"/><circle cx="428.3" cy="360.8" r="0.85"/><circle cx="426.6" cy="362.5" r="0.85"/><circle cx="422.6" cy="361.9" r="0.85"/><circle cx="420.3" cy="363.1" r="0.85"/><circle cx="394.3" cy="364.2" r="0.85"/><circle cx="398.3" cy="363.1" r="0.85"/><circle cx="398.9" cy="365.4" r="0.85"/><circle cx="399.5" cy="367.1" r="0.85"/><circle cx="410.4" cy="363.1" r="0.85"/><circle cx="413.3" cy="363.1" r="0.85"/><circle cx="412.8" cy="365.4" r="0.85"/><circle cx="405.8" cy="365.4" r="0.85"/><circle cx="415.6" cy="365.4" r="0.85"/><circle cx="419.7" cy="364.2" r="0.85"/><circle cx="420.3" cy="366.5" r="0.85"/><circle cx="426.6" cy="365.4" r="0.85"/><circle cx="428.9" cy="365.4" r="0.85"/><circle cx="431.2" cy="366.5" r="0.85"/><circle cx="435.8" cy="365.4" r="0.85"/><circle cx="441.6" cy="363.6" r="0.85"/><circle cx="443.3" cy="365.4" r="0.85"/><circle cx="448.5" cy="365.4" r="0.85"/><circle cx="449.7" cy="363.6" r="0.85"/><circle cx="474.1" cy="353.8" r="0.85"/><circle cx="491.2" cy="352.9" r="0.85"/><circle cx="491.8" cy="361.0" r="0.85"/><circle cx="453.7" cy="359.6" r="0.85"/><circle cx="452.6" cy="361.9" r="0.85"/><circle cx="461.8" cy="360.8" r="0.85"/><circle cx="464.7" cy="361.0" r="0.85"/><circle cx="467.0" cy="361.3" r="0.85"/><circle cx="472.2" cy="360.8" r="0.85"/><circle cx="477.4" cy="361.7" r="0.85"/><circle cx="457.8" cy="364.4" r="0.85"/><circle cx="463.5" cy="364.8" r="0.85"/><circle cx="466.4" cy="364.2" r="0.85"/><circle cx="463.5" cy="365.9" r="0.85"/><circle cx="454.3" cy="367.1" r="0.85"/><circle cx="488.9" cy="367.1" r="0.85"/><circle cx="495.2" cy="364.8" r="0.85"/></g>
<line x1="319.2" y1="350.5" x2="495.7" y2="363.5" stroke="#a8001f" stroke-width="1.55"/>
<g fill="#8da6cf"><circle cx="323.8" cy="350.9" r="0.8"/><circle cx="332.0" cy="350.9" r="0.8"/><circle cx="338.1" cy="351.7" r="0.8"/><circle cx="333.6" cy="351.7" r="0.8"/><circle cx="330.7" cy="351.7" r="0.8"/><circle cx="360.1" cy="353.7" r="0.8"/><circle cx="370.3" cy="354.1" r="0.8"/><circle cx="375.2" cy="354.6" r="0.8"/><circle cx="387.4" cy="355.8" r="0.8"/><circle cx="421.4" cy="357.1" r="0.8"/><circle cx="424.9" cy="357.5" r="0.8"/><circle cx="434.1" cy="357.9" r="0.8"/><circle cx="392.6" cy="357.1" r="0.8"/><circle cx="433.5" cy="359.6" r="0.8"/><circle cx="442.8" cy="359.6" r="0.8"/><circle cx="446.8" cy="359.0" r="0.8"/><circle cx="450.2" cy="359.6" r="0.8"/><circle cx="453.7" cy="359.6" r="0.8"/><circle cx="461.8" cy="360.8" r="0.8"/><circle cx="464.7" cy="361.0" r="0.8"/><circle cx="467.0" cy="361.3" r="0.8"/><circle cx="472.2" cy="360.8" r="0.8"/><circle cx="477.4" cy="361.7" r="0.8"/></g>
<g stroke="#1a1a1a" fill="none"><line x1="312.3" y1="239.7" x2="312.3" y2="367" stroke-width="1.4"/><line x1="311.6" y1="367" x2="509.3" y2="367" stroke-width="1.6"/><line x1="308.90000000000003" y1="367.50" x2="312.3" y2="367.50" stroke-width="1"/><line x1="308.90000000000003" y1="343.50" x2="312.3" y2="343.50" stroke-width="1"/><line x1="308.90000000000003" y1="319.50" x2="312.3" y2="319.50" stroke-width="1"/><line x1="308.90000000000003" y1="296.50" x2="312.3" y2="296.50" stroke-width="1"/><line x1="308.90000000000003" y1="272.50" x2="312.3" y2="272.50" stroke-width="1"/><line x1="308.90000000000003" y1="249.50" x2="312.3" y2="249.50" stroke-width="1"/><line x1="312.50" y1="367" x2="312.50" y2="370.0" stroke-width="1"/><line x1="344.50" y1="367" x2="344.50" y2="370.0" stroke-width="1"/><line x1="376.50" y1="367" x2="376.50" y2="370.0" stroke-width="1"/><line x1="408.50" y1="367" x2="408.50" y2="370.0" stroke-width="1"/><line x1="441.50" y1="367" x2="441.50" y2="370.0" stroke-width="1"/><line x1="473.50" y1="367" x2="473.50" y2="370.0" stroke-width="1"/><line x1="505.50" y1="367" x2="505.50" y2="370.0" stroke-width="1"/></g>
<g font-size="8.6" fill="#111" stroke="#111" stroke-width="0.22"><text x="306.00" y="369.95" text-anchor="end">0</text><text x="306.00" y="346.41" text-anchor="end">20</text><text x="306.00" y="322.87" text-anchor="end">40</text><text x="306.00" y="299.33" text-anchor="end">60</text><text x="306.00" y="275.79" text-anchor="end">80</text><text x="306.00" y="252.25" text-anchor="end">100</text><text x="312.00" y="381.0" text-anchor="middle">0</text><text x="344.33" y="381.0" text-anchor="middle">6</text><text x="376.66" y="381.0" text-anchor="middle">12</text><text x="408.99" y="381.0" text-anchor="middle">18</text><text x="441.32" y="381.0" text-anchor="middle">24</text><text x="473.65" y="381.0" text-anchor="middle">30</text><text x="505.98" y="381.0" text-anchor="middle">36</text></g>
<text transform="translate(410.6,395.2) scale(0.67,1)" font-size="10.6" text-anchor="middle" fill="#111" stroke="#111" stroke-width="0.45">EFS (months)</text>
<text transform="translate(273.0,302.5) rotate(-90) scale(0.67,1)" font-size="10.6" text-anchor="middle" fill="#111" stroke="#111" stroke-width="0.45">Blood product transfusions</text>
<text transform="translate(284.4,302.5) rotate(-90) scale(0.67,1)" font-size="10.6" text-anchor="middle" fill="#111" stroke="#111" stroke-width="0.45">per OS month</text>
<text x="265.0" y="232.9" font-size="12" font-weight="bold" fill="#000" stroke="#000" stroke-width="0.3">D</text>
<text x="455.3" y="254.1" font-size="8" fill="#111" stroke="#111" stroke-width="0.15">r</text>
<rect x="459.9" y="250.45" width="6.3" height="0.95" fill="#222"/><rect x="459.9" y="252.15" width="6.3" height="0.95" fill="#222"/>
<text x="468.5" y="254.1" font-size="8.4" fill="#111" stroke="#111" stroke-width="0.15">-0.19</text>
<text x="455.3" y="266.9" font-size="8" fill="#111" stroke="#111" stroke-width="0.15">p&lt;0.001</text>
</svg></body></html>
